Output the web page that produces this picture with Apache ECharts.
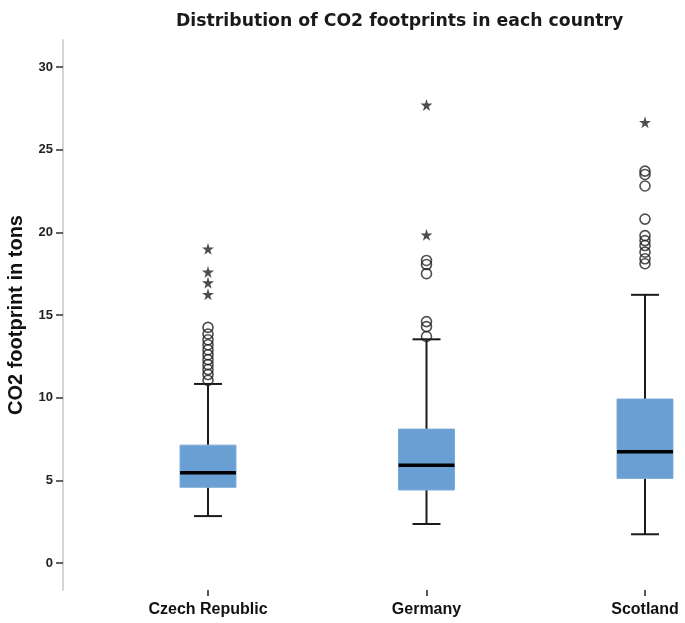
<!DOCTYPE html>
<html>
<head>
<meta charset="utf-8">
<script src="https://cdn.jsdelivr.net/npm/echarts@6/dist/echarts.min.js"></script>
<style>
  html, body { margin: 0; padding: 0; background: #fff; }
  #chart { width: 685px; height: 623px; }
</style>
</head>
<body>
<div id="chart"></div>
<script>
// Countries on the horizontal axis
const countries = ['Czech Republic', 'Germany', 'Scotland'];

// Five-number summaries: [lower whisker, Q1, median, Q3, upper whisker]
const czechBox = [2.84, 4.58, 5.46, 7.13, 10.83];
const germanyBox = [2.36, 4.42, 5.91, 8.10, 13.53];
const scotlandBox = [1.74, 5.12, 6.73, 9.92, 16.22];

// Outliers (circles) and extreme values (stars)
const czechOutliers = [14.25, 13.85, 13.5, 13.2, 12.9, 12.6, 12.3, 12.0, 11.7, 11.4, 11.05];
const czechExtremes = [19.0, 17.6, 16.95, 16.25];
const germanyOutliers = [18.3, 18.05, 17.5, 14.6, 14.3, 13.7];
const germanyExtremes = [27.7, 19.85];
const scotlandOutliers = [23.7, 23.5, 22.8, 20.8, 19.8, 19.5, 19.2, 18.8, 18.4, 18.1];
const scotlandExtremes = [26.65];

// Value axis tick labels
const yTicks = [0, 5, 10, 15, 20, 25, 30];

const boxes = [czechBox, germanyBox, scotlandBox];
const outliers = [czechOutliers, germanyOutliers, scotlandOutliers];
const extremes = [czechExtremes, germanyExtremes, scotlandExtremes];

const boxData = boxes.map((b, i) => [i].concat(b));
const outlierData = [];
outliers.forEach((list, i) => list.forEach(v => outlierData.push([i, v])));
const extremeData = [];
extremes.forEach((list, i) => list.forEach(v => extremeData.push([i, v])));

const STAR = 'path://M50,0 L61,35 L98,35 L68,57 L79,91 L50,70 L21,91 L32,57 L2,35 L39,35 Z';

function renderBox(params, api) {
  const idx = api.value(0);
  const lo = api.coord([idx, api.value(1)]);
  const q1 = api.coord([idx, api.value(2)]);
  const med = api.coord([idx, api.value(3)]);
  const q3 = api.coord([idx, api.value(4)]);
  const hi = api.coord([idx, api.value(5)]);
  const band = api.size([1, 0])[0];
  const bw = band * 0.256;
  const cw = band * 0.128;
  const cx = q1[0];
  const lineStyle = { stroke: '#1a1a1a', lineWidth: 2 };
  return {
    type: 'group',
    children: [
      { type: 'line', shape: { x1: cx, y1: q3[1], x2: cx, y2: hi[1] }, style: lineStyle },
      { type: 'line', shape: { x1: cx, y1: q1[1], x2: cx, y2: lo[1] }, style: lineStyle },
      { type: 'line', shape: { x1: cx - cw / 2, y1: hi[1], x2: cx + cw / 2, y2: hi[1] }, style: lineStyle },
      { type: 'line', shape: { x1: cx - cw / 2, y1: lo[1], x2: cx + cw / 2, y2: lo[1] }, style: lineStyle },
      { type: 'rect', shape: { x: cx - bw / 2, y: q3[1], width: bw, height: q1[1] - q3[1] },
        style: { fill: '#699fd3', stroke: '#7aaad8', lineWidth: 1 } },
      { type: 'line', shape: { x1: cx - bw / 2, y1: med[1], x2: cx + bw / 2, y2: med[1] },
        style: { stroke: '#000', lineWidth: 3.5 } }
    ]
  };
}

const chart = echarts.init(document.getElementById('chart'));
chart.setOption({
  backgroundColor: '#fff',
  animation: false,
  title: {
    text: 'Distribution of CO2 footprints in each country',
    left: 171,
    top: 8,
    textStyle: { fontFamily: 'DejaVu Sans', fontSize: 17.3, fontWeight: 'bold', color: '#1a1a1a' }
  },
  grid: { left: 208, right: 40, top: 40, height: 550, outerBoundsMode: 'none' },
  xAxis: {
    type: 'category',
    data: countries,
    boundaryGap: false,
    axisLine: { show: false, onZero: false },
    axisTick: { show: true, length: 6, lineStyle: { color: '#222', width: 1.5 } },
    axisLabel: { margin: 12, color: '#111', fontFamily: 'Liberation Sans', fontWeight: 'bold', fontSize: 16 },
    splitLine: { show: false }
  },
  yAxis: {
    type: 'value',
    min: -1.63,
    max: 31.63,
    offset: 145,
    name: 'CO2 footprint in tons',
    nameLocation: 'middle',
    nameGap: 37,
    nameTextStyle: { fontFamily: 'Liberation Sans', fontWeight: 'bold', fontSize: 20, color: '#111' },
    axisLine: { show: true, lineStyle: { color: '#d4d4d4', width: 2 } },
    axisTick: { show: true, customValues: yTicks, length: 7, lineStyle: { color: '#333', width: 1.5 } },
    axisLabel: { customValues: yTicks, margin: 10, color: '#222', fontFamily: 'Liberation Sans', fontWeight: 'bold', fontSize: 13 },
    splitLine: { show: false }
  },
  series: [
    {
      type: 'custom',
      renderItem: renderBox,
      data: boxData,
      encode: { x: 0, y: [1, 2, 3, 4, 5] },
      z: 2
    },
    {
      type: 'scatter',
      data: outlierData,
      symbol: 'circle',
      symbolSize: 10,
      itemStyle: { color: 'rgba(0,0,0,0)', borderColor: '#222', borderWidth: 1.6 },
      z: 3
    },
    {
      type: 'scatter',
      data: extremeData,
      symbol: STAR,
      symbolSize: 12,
      itemStyle: { color: '#222' },
      z: 3
    }
  ]
});
</script>
</body>
</html>
